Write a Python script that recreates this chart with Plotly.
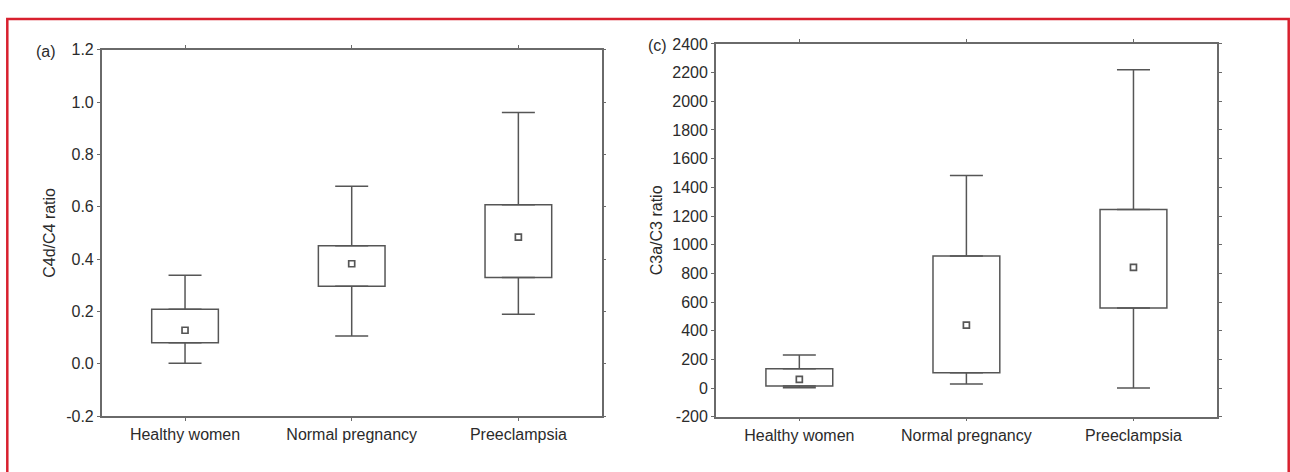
import plotly.graph_objects as go

# ---------------- data ----------------
categories = ["Healthy women", "Normal pregnancy", "Preeclampsia"]

# panel (a): C4d/C4 ratio
c4_min = [0.002, 0.106, 0.189]
c4_q1 = [0.080, 0.296, 0.330]
c4_median = [0.128, 0.382, 0.484]
c4_q3 = [0.208, 0.451, 0.608]
c4_max = [0.338, 0.678, 0.960]

# panel (c): C3a/C3 ratio
c3_min = [2, 29, 0]
c3_q1 = [15, 107, 558]
c3_median = [60, 439, 842]
c3_q3 = [134, 921, 1246]
c3_max = [230, 1483, 2220]

c4_ticks = [-0.2, 0.0, 0.2, 0.4, 0.6, 0.8, 1.0, 1.2]
c3_ticks = list(range(-200, 2401, 200))

# ---------------- style ----------------
LINE = "#565656"
FRAME = "#6a6a6a"
TEXT = "#2b2b2b"
FONT = "Liberation Sans, Arial, sans-serif"
FS = 16
W, H = 1290, 472

fig = go.Figure()


def add_panel(xa, ya, mn, q1, med, q3, mx):
    # box (25%-75%)
    fig.add_trace(go.Bar(
        x=categories, y=[b - a for a, b in zip(q1, q3)], base=q1, width=0.4,
        marker=dict(color="rgba(0,0,0,0)", line=dict(color=LINE, width=1.5)),
        xaxis=xa, yaxis=ya, showlegend=False, hoverinfo="skip"))
    # upper whisker
    fig.add_trace(go.Scatter(
        x=categories, y=q3, mode="markers", marker=dict(opacity=0, size=1),
        error_y=dict(type="data", symmetric=False,
                     array=[b - a for a, b in zip(q3, mx)], arrayminus=[0, 0, 0],
                     width=16.5, thickness=1.5, color=LINE),
        xaxis=xa, yaxis=ya, showlegend=False, hoverinfo="skip"))
    # lower whisker
    fig.add_trace(go.Scatter(
        x=categories, y=q1, mode="markers", marker=dict(opacity=0, size=1),
        error_y=dict(type="data", symmetric=False,
                     array=[0, 0, 0], arrayminus=[a - b for a, b in zip(q1, mn)],
                     width=16.5, thickness=1.5, color=LINE),
        xaxis=xa, yaxis=ya, showlegend=False, hoverinfo="skip"))
    # median marker
    fig.add_trace(go.Scatter(
        x=categories, y=med, mode="markers",
        marker=dict(symbol="square-open", size=6, color=LINE, line=dict(width=1.7, color=LINE)),
        xaxis=xa, yaxis=ya, showlegend=False))


add_panel("x", "y", c4_min, c4_q1, c4_median, c4_q3, c4_max)
add_panel("x2", "y2", c3_min, c3_q1, c3_median, c3_q3, c3_max)

axis_common = dict(showline=True, linecolor=FRAME, linewidth=1.5, mirror="allticks",
                   ticks="outside", ticklen=3, tickcolor=FRAME, tickwidth=1,
                   showgrid=False, zeroline=False,
                   tickfont=dict(family=FONT, size=FS, color=TEXT))

fig.update_layout(
    width=W, height=H,
    margin=dict(l=0, r=0, t=0, b=0),
    paper_bgcolor="white", plot_bgcolor="white",
    font=dict(family=FONT, color=TEXT),
    xaxis=dict(domain=[101.7 / W, 601.7 / W], anchor="y", type="category",
               range=[-0.5, 2.5], **axis_common),
    yaxis=dict(domain=[1 - 423.3 / H, 1 - 43.3 / H], anchor="x",
               range=[-0.2, 1.2], tickvals=c4_ticks,
               ticktext=[f"{v:.1f}" for v in c4_ticks],
               title=dict(text="C4d/C4 ratio", font=dict(family=FONT, size=FS, color=TEXT),
                          standoff=7),
               **axis_common),
    xaxis2=dict(domain=[715.8 / W, 1217 / W], anchor="y2", type="category",
                range=[-0.5, 2.5], **axis_common),
    yaxis2=dict(domain=[1 - 424 / H, 1 - 37.3 / H], anchor="x2",
                range=[-200, 2400], tickvals=c3_ticks,
                ticktext=[str(v) for v in c3_ticks],
                title=dict(text="C3a/C3 ratio", font=dict(family=FONT, size=FS, color=TEXT),
                           standoff=6),
                **axis_common),
    annotations=[
        dict(text="(a)", x=46 / W, y=1 - 45 / H, xref="paper", yref="paper",
             xanchor="center", yanchor="middle",
             showarrow=False, font=dict(family=FONT, size=FS, color=TEXT)),
        dict(text="(c)", x=657 / W, y=1 - 39 / H, xref="paper", yref="paper",
             xanchor="center", yanchor="middle",
             showarrow=False, font=dict(family=FONT, size=FS, color=TEXT)),
    ],
    shapes=[
        dict(type="rect", xref="paper", yref="paper",
             x0=7.3 / W, x1=1288.7 / W, y0=-0.05, y1=1 - 11.3 / H,
             line=dict(color="#d8202e", width=2.5), fillcolor="rgba(0,0,0,0)", layer="above"),
    ],
)

fig.write_html(
    "out.html",
    config={"displayModeBar": False},
    post_script=(
        "document.documentElement.style.margin='0';"
        "document.documentElement.style.padding='0';"
        "document.documentElement.style.overflow='hidden';"
        "document.body.style.margin='0';"
        "document.body.style.padding='0';"
        "document.body.style.overflow='hidden';"
        "var gd=document.getElementById('{plot_id}');"
        "gd.style.position='fixed';gd.style.top='0px';gd.style.left='0px';"
    ),
)
